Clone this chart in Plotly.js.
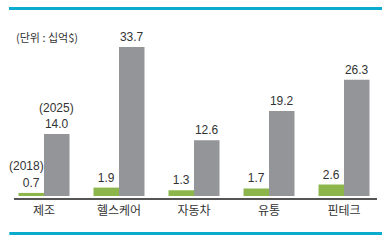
<!DOCTYPE html>
<html><head><meta charset="utf-8">
<script src="https://cdn.plot.ly/plotly-3.0.1.min.js"></script>
<style>html,body{margin:0;padding:0;background:#fff}#chart{width:392px;height:243px}</style>
</head><body><div id="chart"></div>
<script>
const categories = ['제조','헬스케어','자동차','유통','핀테크'];
const values2018 = [0.7, 1.9, 1.3, 1.7, 2.6];
const values2025 = [14.0, 33.7, 12.6, 19.2, 26.3];
const unitLabel = '(단위 : 십억$)';

const fontFam = 'Liberation Sans, Arial, Noto Sans CJK KR, sans-serif';
const txtColor = '#333333';
const xIdx = categories.map((c,i)=>i);

const traces = [
  {type:'bar', name:'2018', x:xIdx, y:values2018, marker:{color:'#8cb64b'},
   text:values2018.map(v=>v.toFixed(1)), textposition:'outside', cliponaxis:false,
   textfont:{family:fontFam, size:12, color:txtColor}, hoverinfo:'none'},
  {type:'bar', name:'2025', x:xIdx, y:values2025, marker:{color:'#939598'},
   text:values2025.map(v=>v.toFixed(1)), textposition:'outside', cliponaxis:false,
   textfont:{family:fontFam, size:12, color:txtColor}, hoverinfo:'none'}
];

const layout = {
  width:392, height:243,
  margin:{l:14, r:15, t:19, b:45, pad:0},
  paper_bgcolor:'#fff', plot_bgcolor:'#fff',
  showlegend:false,
  barmode:'group', bargap:0.32, bargroupgap:0,
  font:{family:fontFam, color:txtColor},
  xaxis:{type:'linear', range:[-0.4, 4.44], tickmode:'array', tickvals:xIdx, ticktext:categories,
    showgrid:false, zeroline:false, showline:true, linecolor:'#555555', linewidth:1.5,
    ticks:'', tickfont:{family:'Noto Sans CJK KR, sans-serif', size:12, color:txtColor}, ticklabelstandoff:1},
  yaxis:{range:[-0.45, 40], visible:false, showgrid:false, zeroline:false},
  shapes:[
    {type:'line', xref:'paper', yref:'paper', x0:-0.0138, x1:1.0138, y0:1.0587, y1:1.0587, line:{color:'#0aabcd', width:3}},
    {type:'line', xref:'paper', yref:'paper', x0:-0.0129, x1:1.0138, y0:-0.198, y1:-0.198, line:{color:'#0aabcd', width:3}}
  ],
  annotations:[
    {text:unitLabel, xref:'paper', yref:'paper', x:0, y:0.902, xanchor:'left', yanchor:'middle', showarrow:false,
     font:{family:'Noto Sans CJK KR, sans-serif', size:11, color:txtColor}},
    {text:'(2025)', xref:'x', yref:'y', x:0.17, y:19.9, xanchor:'center', yanchor:'middle', showarrow:false,
     font:{family:fontFam, size:12, color:txtColor}},
    {text:'(2018)', xref:'x', yref:'y', x:-0.227, y:6.8, xanchor:'center', yanchor:'middle', showarrow:false,
     font:{family:fontFam, size:12, color:txtColor}}
  ]
};
Plotly.newPlot('chart', traces, layout, {staticPlot:true, displayModeBar:false});
</script></body></html>
